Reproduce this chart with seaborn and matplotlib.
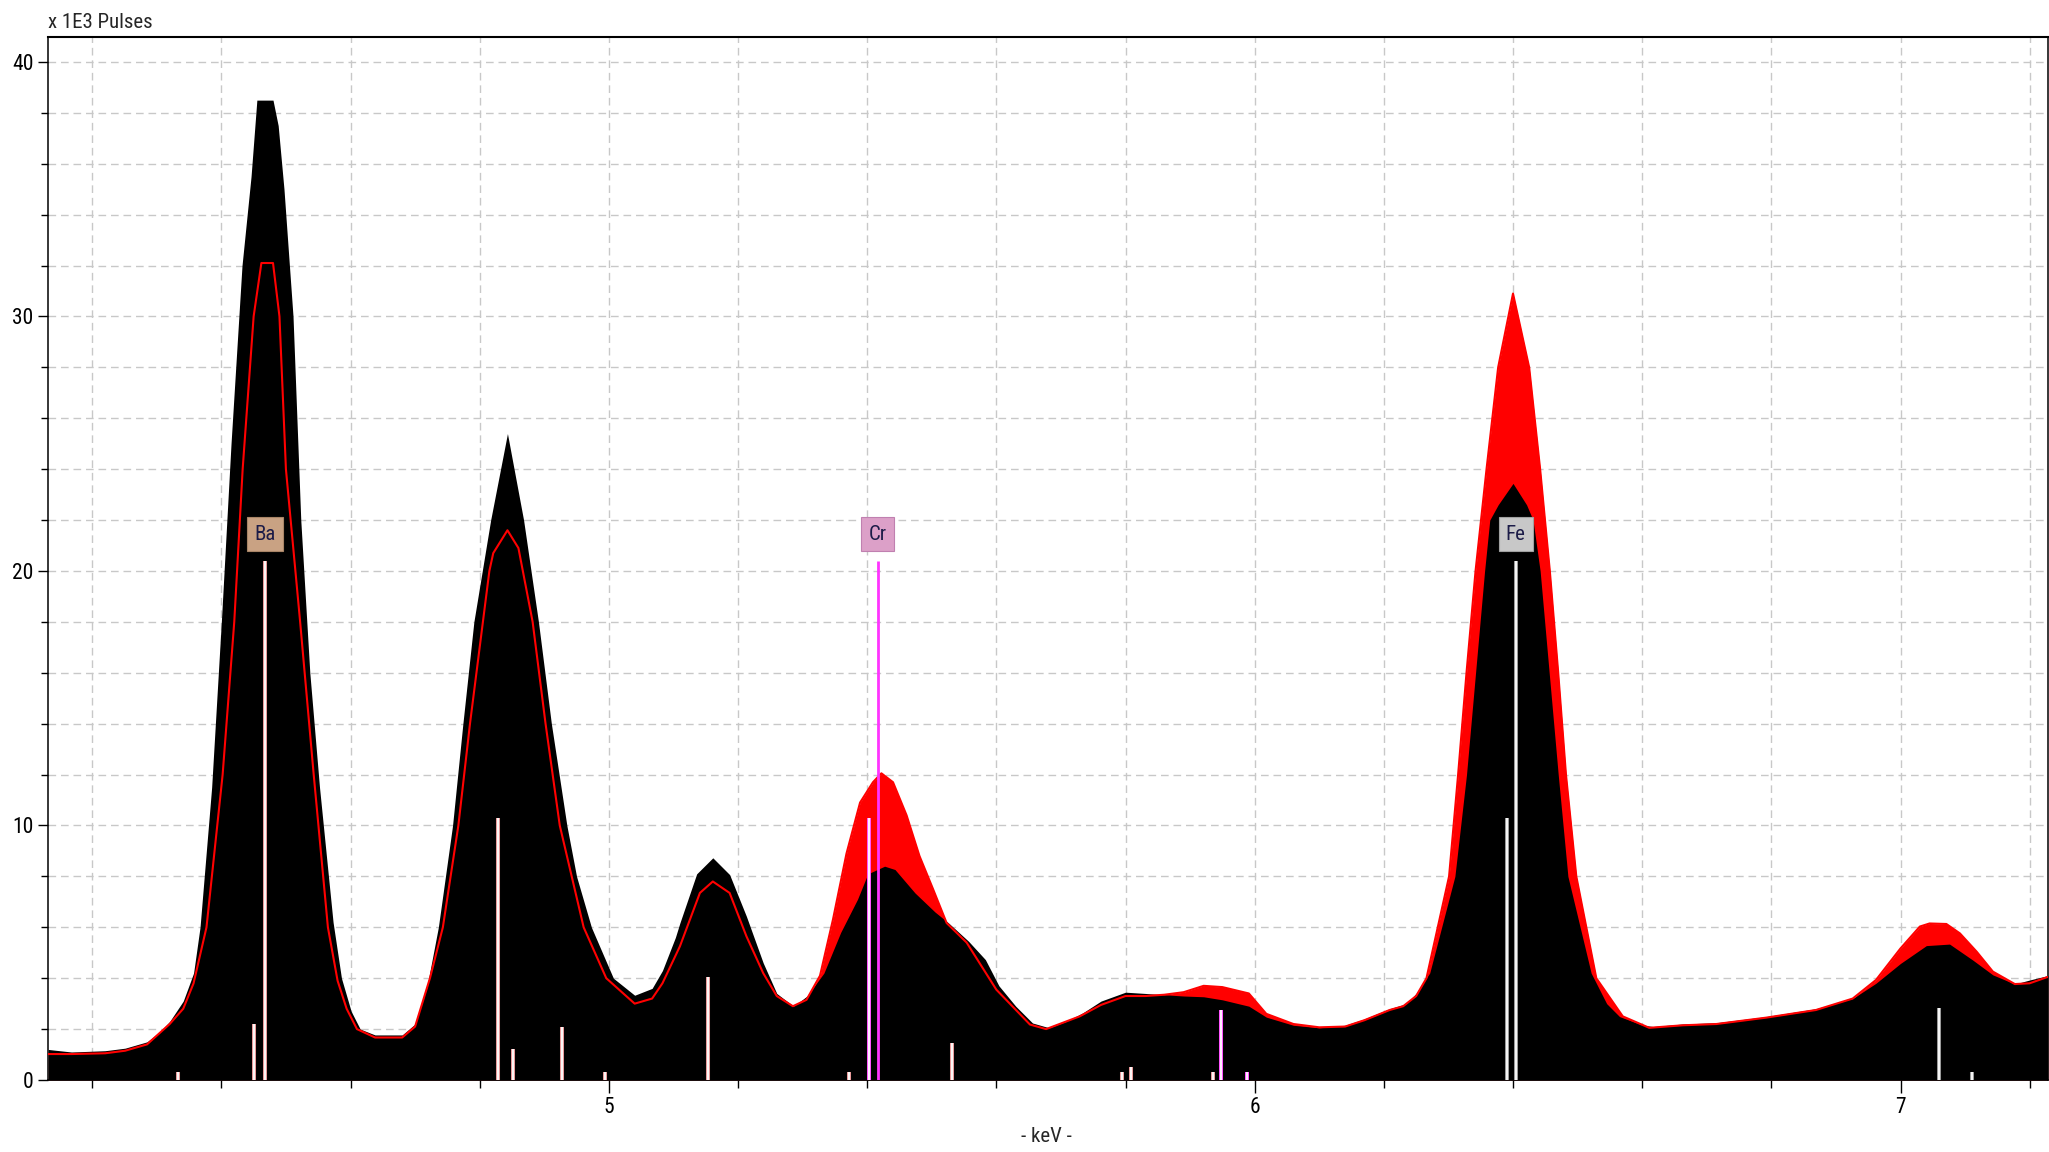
import matplotlib
matplotlib.use("Agg")
import matplotlib.pyplot as plt
import matplotlib.patheffects as pe
from matplotlib.ticker import MultipleLocator, FixedLocator
import seaborn as sns

# spectrum 1 (black, filled), x1E3 pulses
black_kev = [4.132, 4.168, 4.22, 4.251, 4.285, 4.305, 4.320, 4.341, 4.357, 4.367,
             4.385, 4.400, 4.415, 4.432, 4.446, 4.455, 4.480, 4.488, 4.497, 4.511,
             4.523, 4.537, 4.552, 4.573, 4.586, 4.601, 4.615, 4.638, 4.680, 4.700,
             4.718, 4.736, 4.758, 4.774, 4.791, 4.817, 4.843, 4.868, 4.891, 4.911,
             4.935, 4.950, 4.973, 5.007, 5.040, 5.067, 5.083, 5.103, 5.110, 5.136,
             5.161, 5.187, 5.213, 5.239, 5.260, 5.286, 5.307, 5.333, 5.359, 5.385,
             5.401, 5.427, 5.443, 5.474, 5.505, 5.526, 5.557, 5.583, 5.604, 5.630,
             5.656, 5.682, 5.708, 5.734, 5.762, 5.800, 5.831, 5.860, 5.890, 5.921,
             5.950, 5.991, 6.018, 6.060, 6.100, 6.140, 6.170, 6.209, 6.235, 6.250,
             6.271, 6.310, 6.328, 6.342, 6.356, 6.364, 6.377, 6.400, 6.421, 6.431,
             6.442, 6.456, 6.470, 6.485, 6.521, 6.545, 6.565, 6.600, 6.617, 6.663,
             6.715, 6.792, 6.869, 6.926, 6.962, 7.000, 7.040, 7.076, 7.112, 7.143,
             7.177, 7.200, 7.228]
black_counts = [1.2, 1.1, 1.15, 1.25, 1.5, 1.9, 2.3, 3.1, 4.2, 6.0,
                11.5, 18.0, 25.0, 32.0, 35.5, 38.5, 38.5, 37.5, 35.0, 30.0,
                22.0, 16.0, 11.5, 6.2, 4.0, 2.7, 2.0, 1.77, 1.77, 2.2,
                3.6, 6.0, 10.0, 14.0, 18.0, 22.0, 25.4, 22.0, 18.0, 14.0,
                10.0, 8.0, 6.0, 4.0, 3.33, 3.6, 4.3, 5.6, 6.17, 8.1,
                8.73, 8.07, 6.43, 4.6, 3.4, 2.9, 3.3, 4.2, 5.8, 7.1,
                8.1, 8.4, 8.27, 7.35, 6.6, 6.17, 5.45, 4.73, 3.7, 2.9,
                2.24, 2.05, 2.3, 2.64, 3.1, 3.45, 3.4, 3.35, 3.3, 3.27,
                3.15, 2.9, 2.47, 2.15, 2.05, 2.15, 2.4, 2.8, 3.0, 3.4,
                4.2, 8.0, 12.0, 16.0, 20.0, 22.0, 22.6, 23.44, 22.6, 22.0,
                20.0, 16.0, 12.0, 8.0, 4.2, 3.0, 2.49, 2.16, 2.1, 2.2,
                2.25, 2.49, 2.8, 3.2, 3.8, 4.58, 5.28, 5.34, 4.71, 4.13,
                3.77, 3.93, 4.1]

# spectrum 2 (red)
red_kev = [4.132, 4.168, 4.22, 4.251, 4.285, 4.320, 4.341, 4.357, 4.377, 4.402,
           4.420, 4.433, 4.450, 4.462, 4.480, 4.490, 4.500, 4.522, 4.543, 4.565,
           4.580, 4.594, 4.610, 4.638, 4.680, 4.700, 4.723, 4.743, 4.767, 4.785,
           4.805, 4.815, 4.821, 4.843, 4.860, 4.882, 4.902, 4.924, 4.961, 4.996,
           5.040, 5.067, 5.083, 5.110, 5.141, 5.161, 5.187, 5.213, 5.239, 5.260,
           5.285, 5.306, 5.327, 5.347, 5.368, 5.389, 5.409, 5.422, 5.440, 5.461,
           5.481, 5.502, 5.523, 5.554, 5.600, 5.652, 5.677, 5.729, 5.762, 5.800,
           5.831, 5.860, 5.890, 5.921, 5.950, 5.991, 6.018, 6.060, 6.100, 6.140,
           6.170, 6.209, 6.230, 6.250, 6.266, 6.301, 6.315, 6.328, 6.342, 6.359,
           6.377, 6.400, 6.425, 6.442, 6.457, 6.470, 6.482, 6.498, 6.529, 6.570,
           6.611, 6.663, 6.715, 6.792, 6.869, 6.926, 6.962, 7.000, 7.030, 7.045,
           7.071, 7.092, 7.118, 7.143, 7.177, 7.200, 7.228]
red_counts = [1.02, 1.02, 1.05, 1.15, 1.4, 2.2, 2.8, 3.8, 6.0, 12.0,
              18.0, 24.0, 30.0, 32.1, 32.1, 30.0, 24.0, 18.0, 12.0, 6.0,
              3.9, 2.8, 2.0, 1.67, 1.67, 2.1, 4.0, 6.0, 10.0, 14.0,
              18.0, 20.0, 20.7, 21.6, 20.9, 18.0, 14.0, 10.0, 6.0, 4.0,
              3.0, 3.2, 3.8, 5.25, 7.35, 7.8, 7.35, 5.65, 4.2, 3.3,
              2.9, 3.15, 4.1, 6.3, 8.9, 10.9, 11.7, 12.05, 11.7, 10.4,
              8.8, 7.5, 6.17, 5.4, 3.55, 2.18, 2.0, 2.5, 2.95, 3.3,
              3.3, 3.35, 3.45, 3.7, 3.65, 3.4, 2.6, 2.2, 2.07, 2.1,
              2.35, 2.75, 2.9, 3.3, 4.0, 8.0, 12.0, 16.0, 20.0, 24.0,
              28.0, 30.9, 28.0, 24.0, 20.0, 16.0, 12.0, 8.0, 4.0, 2.5,
              2.05, 2.15, 2.2, 2.45, 2.75, 3.2, 3.93, 5.17, 6.03, 6.15,
              6.13, 5.76, 5.04, 4.26, 3.77, 3.8, 4.05]

# KLM marker lines
ba_kev = [4.333, 4.451, 4.468, 4.829, 4.851, 4.927, 4.994, 5.154, 5.372, 5.531, 5.795, 5.808, 5.936]
ba_height = [0.33, 2.2, 20.4, 10.3, 1.2, 2.1, 0.33, 4.06, 0.33, 1.47, 0.33, 0.5, 0.33]
cr_kev = [5.403, 5.948, 5.988]
cr_height = [10.3, 2.75, 0.33]
cr_main_kev = [5.416]
cr_main_height = [20.4]
fe_kev = [6.391, 6.404, 7.059, 7.110]
fe_height = [10.3, 20.4, 2.82, 0.33]

element_names = ["Ba", "Cr", "Fe"]
element_kev = [4.468, 5.416, 6.404]
element_colors = ["#c9a283", "#dca0c8", "#c8c8c8"]
element_edges = ["#a88466", "#c080b0", "#a0a0a0"]

sns.set_style("white")
plt.rcParams["font.family"] = ["Liberation Sans Narrow", "Roboto Condensed",
                               "DejaVu Sans Condensed", "Liberation Sans", "DejaVu Sans"]

fig = plt.figure(figsize=(20.49, 11.52), dpi=100)
ax = fig.add_axes([48 / 2049, 72 / 1152, 1999.5 / 2049, 1043 / 1152])

ax.fill_between(red_kev, red_counts, color="#ff0000", lw=0, zorder=2)
ax.fill_between(black_kev, black_counts, color="black", lw=0, zorder=3)
sns.lineplot(x=red_kev, y=red_counts, color="#ff0000", lw=1.5, ax=ax, zorder=4, sort=False)


def draw_markers(kev, height, face, edge, width=1.3):
    ax.vlines(kev, 0, height, colors=face, lw=width, zorder=5,
              path_effects=[pe.Stroke(linewidth=width + 1.6, foreground=edge), pe.Normal()])


draw_markers(ba_kev, ba_height, "white", "#e89a9a")
draw_markers(cr_kev, cr_height, "white", "#ff55ff")
draw_markers(fe_kev, fe_height, "white", "#9a9a9a")
ax.vlines(cr_main_kev, 0, cr_main_height, colors="#ff33ff", lw=2.0, zorder=5)

for name, x, fc, ec in zip(element_names, element_kev, element_colors, element_edges):
    ax.text(x, 21.45, name, ha="center", va="center", fontsize=15, color="#1c1c48", zorder=6,
            bbox=dict(boxstyle="square,pad=0.34", fc=fc, ec=ec, lw=0.8))

ax.set_xlim(4.1316, 7.2276)
ax.set_ylim(0, 40.98)

ax.xaxis.set_major_locator(FixedLocator([5, 6, 7]))
ax.xaxis.set_minor_locator(MultipleLocator(0.2))
ax.yaxis.set_major_locator(MultipleLocator(10))
ax.yaxis.set_minor_locator(MultipleLocator(2))
ax.tick_params(axis="both", which="both", bottom=True, left=True, direction="out",
               color="black", labelcolor="black", width=1.0)
ax.tick_params(axis="x", which="major", length=9.5, pad=3, labelsize=15.5)
ax.tick_params(axis="x", which="minor", length=5.5)
ax.tick_params(axis="y", which="major", length=7, pad=3.5, labelsize=15.5)
ax.tick_params(axis="y", which="minor", length=5)

ax.grid(which="both", color="#c8c8c8", ls=(0, (5.5, 3.5)), lw=1.0)
ax.set_axisbelow(True)
for s in ax.spines.values():
    s.set_color("black")
    s.set_linewidth(1.1)
ax.spines["top"].set_linewidth(1.5)

ax.set_xlabel("")
ax.set_ylabel("")
fig.text(48 / 2049, 1 - 23 / 1152, "x 1E3 Pulses", ha="left", va="center", fontsize=15)
fig.text(1046 / 2049, 1 - 1137 / 1152, "- keV -", ha="center", va="center", fontsize=15)

fig.savefig("out.png", dpi=100)
